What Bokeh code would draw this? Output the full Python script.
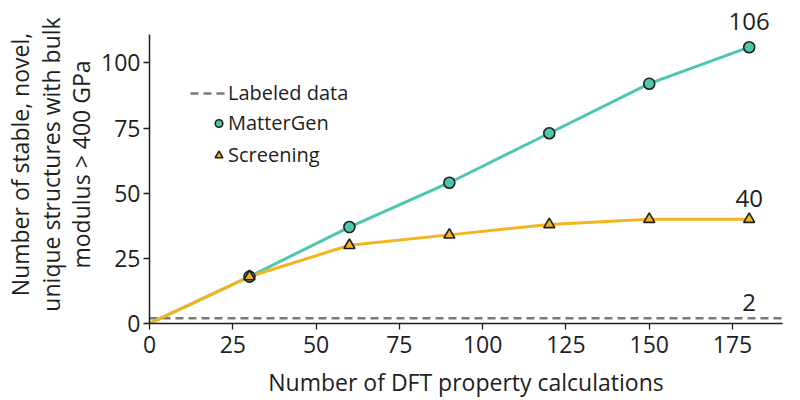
from bokeh.plotting import figure
from bokeh.models import Range1d, Legend, LegendItem, FixedTicker, Label
from bokeh.embed import file_html
from bokeh.resources import INLINE

# Data
calcs = [0, 30, 60, 90, 120, 150, 180]
mattergen = [0, 18, 37, 54, 73, 92, 106]
screening = [0, 18, 30, 34, 38, 40, 40]
labeled_data = 2
x_ticks = [0, 25, 50, 75, 100, 125, 150, 175]
y_ticks = [0, 25, 50, 75, 100]

TEAL = "#4cc7ae"
GOLD = "#f4b41e"
FONT = "Open Sans"
INK = "#1e1e1e"

p = figure(width=800, height=400, output_backend="svg", toolbar_location=None,
           x_range=Range1d(0, 190), y_range=Range1d(0, 122),
           min_border_left=149, min_border_right=18, min_border_top=5, min_border_bottom=77)
p.outline_line_color = None
p.grid.visible = False

for ax in (p.xaxis, p.yaxis):
    ax.axis_line_color = INK
    ax.axis_line_width = 1.5
    ax.major_tick_line_color = INK
    ax.major_tick_line_width = 1.3
    ax.major_tick_out = 6
    ax.major_tick_in = 0
    ax.minor_tick_line_color = None
    ax.major_label_text_font = FONT
    ax.major_label_text_font_size = "23px"
    ax.major_label_text_color = INK
    ax.axis_label_text_font = FONT
    ax.axis_label_text_font_size = "23px"
    ax.axis_label_text_font_style = "normal"
    ax.axis_label_text_color = INK

p.yaxis.bounds = (0, 111)
p.xaxis.ticker = FixedTicker(ticks=x_ticks)
p.yaxis.ticker = FixedTicker(ticks=y_ticks)
p.xaxis.axis_label = "Number of DFT property calculations"
p.yaxis.axis_label = "Number of stable, novel,\nunique structures with bulk\nmodulus > 400 GPa"
p.yaxis.axis_label_text_line_height = 0.95
p.xaxis.major_label_standoff = 6
p.xaxis.axis_label_standoff = 10
p.yaxis.major_label_standoff = 3
p.yaxis.axis_label_standoff = 1

# Labeled data dashed line
lab = p.line(x=[p.x_range.start, p.x_range.end], y=[labeled_data, labeled_data],
             line_color="#7a7a7a", line_width=2.5, line_dash="8 5")

# Lines
p.line(calcs, mattergen, line_color=TEAL, line_width=3)
p.line(calcs, screening, line_color=GOLD, line_width=3)

mg = p.scatter(calcs[1:], mattergen[1:], marker="circle", size=11,
               fill_color=TEAL, line_color=INK, line_width=1.6)
sc = p.scatter(calcs[1:], screening[1:], marker="triangle", size=11,
               fill_color=GOLD, line_color=INK, line_width=1.6)

# End annotations (value, pixel offset above the point)
for yv, off in ((mattergen[-1], 17), (screening[-1], 12), (labeled_data, 7)):
    p.add_layout(Label(x=calcs[-1], y=yv, text=str(yv), text_align="center",
                       text_baseline="bottom", y_offset=off, text_font=FONT,
                       text_font_size="24px", text_color=INK))

leg_common = dict(border_line_color=None, background_fill_alpha=0,
                  label_text_font=FONT, label_text_font_size="20px", label_text_color=INK,
                  glyph_height=22, padding=0, margin=0)
legend1 = Legend(items=[LegendItem(label="Labeled data", renderers=[lab])],
                 location=(41, 217), glyph_width=35, label_standoff=3, **leg_common)
legend2 = Legend(items=[LegendItem(label="MatterGen", renderers=[mg]),
                        LegendItem(label="Screening", renderers=[sc])],
                 location=(60, 155), glyph_width=19, label_standoff=0, spacing=5, **leg_common)
p.add_layout(legend1)
p.add_layout(legend2)

open("out.html", "w").write(file_html(p, INLINE))
